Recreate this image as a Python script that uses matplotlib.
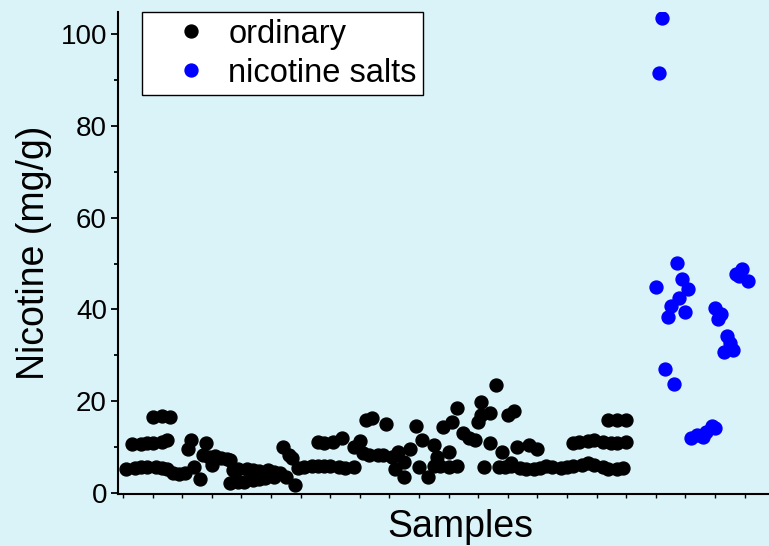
import numpy as np
import matplotlib
matplotlib.use("Agg")
import matplotlib.pyplot as plt
from matplotlib.ticker import MultipleLocator, NullFormatter

# ordinary e-liquids: sample number, nicotine (mg/g)
ord_x = [10, 13, 16,
         3, 6, 8, 10, 13, 15,
         1, 4, 6, 8, 11, 13, 15, 17, 19, 21,
         22, 23, 24, 26, 27, 28, 29, 30, 31, 33, 35, 36,
         37, 39, 42, 44, 46, 49, 51, 53,
         36, 39, 41, 44, 46, 48, 51,
         54, 56, 57, 55, 58,
         59, 61, 64, 66, 68, 70, 73, 75, 78,
         66, 68, 71, 74, 78, 80, 81,
         82, 84, 89, 99, 83, 86, 88, 91,
         93, 97, 101, 105, 95, 92, 95, 100, 103,
         106, 110, 108, 111, 113, 105, 107, 110, 113,
         126, 121, 120, 121, 124, 130, 132, 115, 117, 119, 124,
         128, 133, 137, 140, 122, 127, 131,
         129, 131, 134, 136, 139, 141, 143, 145, 148, 150, 152, 155, 157, 159, 162, 164, 167, 169,
         152, 154, 157, 159, 162, 165, 167, 170,
         164, 167, 170]
ord_y = [16.6, 16.8, 16.5,
         10.6, 10.8, 10.9, 11.0, 11.2, 11.5,
         5.3, 5.5, 5.6, 5.6, 5.7, 5.5, 5.3, 4.4, 4.1, 4.3,
         9.6, 11.5, 5.7, 3.0, 8.3, 10.9, 7.8, 6.1, 8.0, 7.7, 7.5, 7.2,
         5.0, 5.2, 5.3, 5.1, 4.8, 5.0, 4.6, 4.3,
         2.3, 2.4, 2.5, 2.8, 3.0, 3.2, 3.6,
         10.0, 8.3, 7.6, 3.5, 1.8,
         5.4, 5.6, 5.8, 5.8, 5.9, 5.8, 5.7, 5.5, 5.6,
         11.2, 10.9, 11.1, 11.9, 10.0, 11.3, 8.7,
         15.9, 16.3, 15.0, 14.6, 8.4, 8.3, 8.2, 7.9,
         8.9, 9.6, 11.5, 10.5, 6.8, 5.2, 3.6, 5.7, 3.5,
         7.8, 8.9, 14.4, 15.5, 18.5, 5.8, 5.8, 5.7, 5.8,
         23.5, 19.8, 15.5, 17.0, 17.4, 17.0, 17.9, 13.1, 12.0, 11.5, 10.9,
         8.9, 10.0, 10.5, 9.6, 5.7, 5.7, 6.5,
         5.6, 5.8, 5.5, 5.2, 5.3, 5.4, 6.0, 5.6, 5.4, 5.6, 5.9, 6.1, 6.5, 6.2, 5.6, 5.2, 5.3, 5.4,
         10.9, 11.1, 11.3, 11.5, 11.2, 11.0, 10.9, 11.1,
         15.9, 15.9, 15.9]

# nicotine salt e-liquids
salt_x = [180, 181, 182, 183, 184, 185, 186, 187, 188, 189, 190, 191,
          192, 194, 196, 197, 199, 200,
          200, 201, 202, 203, 204, 205, 206, 207, 208, 209, 211]
salt_y = [44.8, 91.5, 103.5, 27.0, 38.3, 40.8, 23.8, 50.2, 42.4, 46.6, 39.4, 44.4,
          12.0, 12.6, 12.3, 13.4, 14.6, 14.1,
          40.4, 38.0, 39.0, 30.8, 34.2, 32.7, 31.2, 47.8, 47.2, 48.8, 46.3]

bg = '#daf3f8'
plt.rcParams['font.family'] = ['Liberation Sans', 'DejaVu Sans']

fig = plt.figure(figsize=(7.69, 5.46), dpi=100)
fig.patch.set_facecolor(bg)
# axes run a little past the right edge of the figure, as in the original
ax = fig.add_axes([118 / 769, 52 / 546, 684 / 769, 482 / 546])
ax.set_facecolor(bg)

ax.plot(ord_x, ord_y, 'o', color='black', markersize=9.3, label='ordinary')
ax.plot(salt_x, salt_y, 'o', color='#0000ff', markersize=9.3, label='nicotine salts')

ax.set_xlim(-1.7, 229.4)
ax.set_ylim(-0.2, 104.8)

ax.yaxis.set_major_locator(MultipleLocator(20))
ax.yaxis.set_minor_locator(MultipleLocator(10))
ax.xaxis.set_major_locator(MultipleLocator(10))
ax.xaxis.set_major_formatter(NullFormatter())

for side in ['top', 'right']:
    ax.spines[side].set_visible(False)
for side in ['left', 'bottom']:
    ax.spines[side].set_linewidth(1.5)

ax.tick_params(axis='y', which='major', direction='out', length=5, width=1.3, labelsize=20, pad=3)
ax.tick_params(axis='y', which='minor', direction='out', length=3, width=1.3)
ax.tick_params(axis='x', which='major', direction='out', length=3, width=1.0)

ax.set_ylabel('Nicotine (mg/g)', fontsize=27, labelpad=6)
ax.set_xlabel('Samples', fontsize=27, labelpad=4)

leg = ax.legend(loc='upper left', bbox_to_anchor=(24 / 684, 1.0), borderaxespad=0,
                fontsize=23.5, frameon=True, fancybox=False, edgecolor='black',
                facecolor='white', framealpha=1.0, handletextpad=-0.15,
                borderpad=0.2, labelspacing=0.25, handlelength=2.6)
leg.get_frame().set_linewidth(1.0)

fig.savefig('out.png', dpi=100, facecolor=fig.get_facecolor())
